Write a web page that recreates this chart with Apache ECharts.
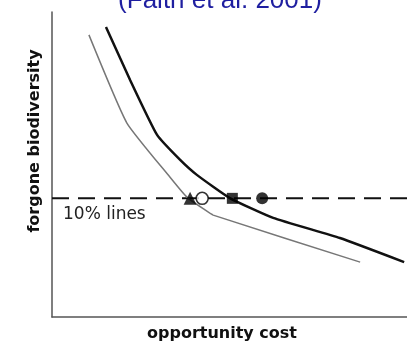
<!DOCTYPE html>
<html><head><meta charset="utf-8">
<script src="https://cdn.jsdelivr.net/npm/echarts@6/dist/echarts.min.js"></script>
<style>html,body{margin:0;padding:0;background:#fff}#c{width:407px;height:343px}</style>
</head><body><div id="c"></div>
<script>
const titleText = "(Faith et al. 2001)";
const xName = "opportunity cost";
const yName = "forgone biodiversity";
const lineLabel = "10% lines";
const blackCurve = [[15.2,95.1],[22.0,77.7],[29.6,59.7],[36.1,51.5],[40.8,46.6],[50.1,39.0],[62.3,32.5],[81.1,25.9],[99.2,18.0]];
const grayCurve = [[10.4,92.5],[21.1,63.6],[33.2,45.9],[38.0,39.3],[43.1,35.1],[45.4,33.4],[86.8,18.0]];
const tenPercentLevel = 38.9;
const dashedLine = [[0,tenPercentLevel],[100,tenPercentLevel]];
const triangleX = 38.9, openCircleX = 42.3, squareX = 50.8, circleX = 59.2;

const chart = echarts.init(document.getElementById('c'));
chart.setOption({
  animation:false,
  backgroundColor:'#fff',
  grid:{left:52,right:0,top:12,bottom:26},
  xAxis:{type:'value',min:0,max:100,axisLine:{show:true,lineStyle:{color:'#555',width:1.5}},axisTick:{show:false},axisLabel:{show:false},splitLine:{show:false}},
  yAxis:{type:'value',min:0,max:100,axisLine:{show:true,lineStyle:{color:'#555',width:1.5}},axisTick:{show:false},axisLabel:{show:false},splitLine:{show:false}},
  series:[
    {type:'line',data:dashedLine,symbol:'none',lineStyle:{color:'#111',width:2,type:[17,9]},z:1},
    {type:'line',data:grayCurve,symbol:'none',smooth:0.15,lineStyle:{color:'#777',width:1.5},z:2},
    {type:'line',data:blackCurve,symbol:'none',smooth:0.15,lineStyle:{color:'#111',width:2.5},z:3},
    {type:'scatter',data:[[triangleX,tenPercentLevel]],symbol:'triangle',symbolSize:13,itemStyle:{color:'#000'},z:5},
    {type:'scatter',data:[[openCircleX,tenPercentLevel]],symbol:'circle',symbolSize:12,itemStyle:{color:'#fff',borderColor:'#000',borderWidth:1.5},z:6},
    {type:'scatter',data:[[squareX,tenPercentLevel]],symbol:'rect',symbolSize:11,itemStyle:{color:'#000'},z:5},
    {type:'scatter',data:[[circleX,tenPercentLevel]],symbol:'circle',symbolSize:12,itemStyle:{color:'#000'},z:5}
  ],
  graphic:[
    {type:'text',x:220,y:1,style:{text:titleText,fill:'#1f1fa0',font:'26px "Liberation Sans", Arial, sans-serif',align:'center',verticalAlign:'middle'}},
    {type:'text',x:35,y:141,rotation:Math.PI/2,style:{text:yName,fill:'#111',font:'bold 16px "DejaVu Sans", sans-serif',align:'center',verticalAlign:'middle'}},
    {type:'text',x:222,y:334,style:{text:xName,fill:'#111',font:'bold 16px "DejaVu Sans", sans-serif',align:'center',verticalAlign:'middle'}},
    {type:'text',x:63,y:215,style:{text:lineLabel,fill:'#222',font:'17px "DejaVu Sans", sans-serif',align:'left',verticalAlign:'middle'}}
  ]
});
</script></body></html>
